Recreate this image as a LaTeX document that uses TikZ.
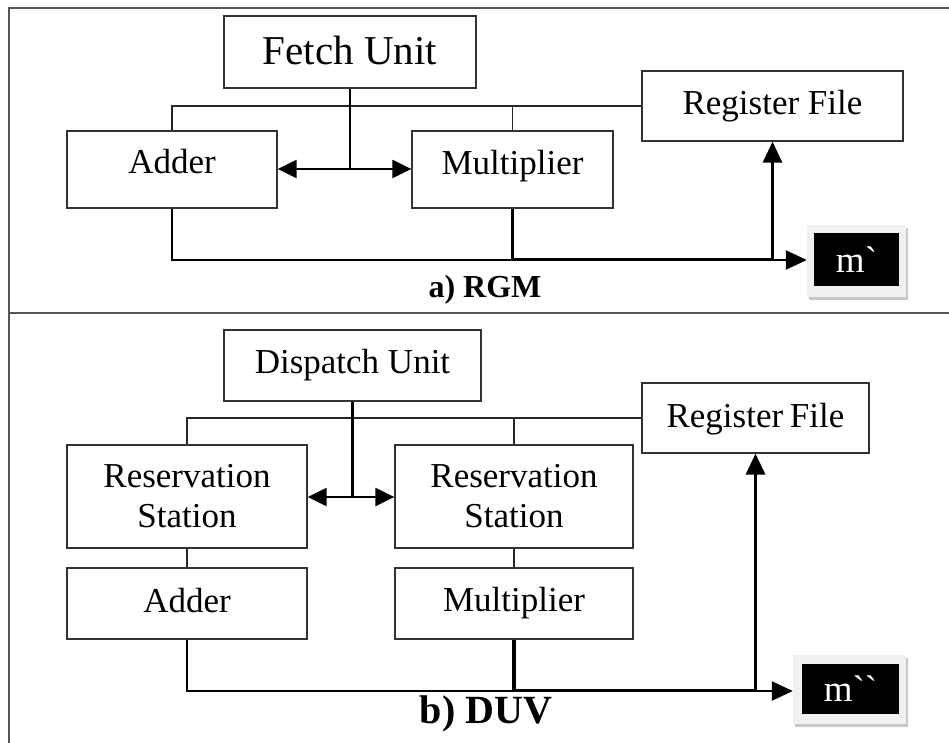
\documentclass[tikz,border=0pt]{standalone}
\usepackage{fontspec}
\setmainfont{Liberation Serif}
% plain family without TeX ligatures, so that two grave accents stay two glyphs
\newfontfamily\plainserif{Liberation Serif}
\usetikzlibrary{arrows.meta}
\definecolor{framegray}{HTML}{555555}
\definecolor{tagface}{HTML}{F0F0F0}
\definecolor{tagshade}{HTML}{C8C8C8}
\begin{document}
\begin{tikzpicture}[x=1pt,y=-1pt,
  unit/.style={draw=black!80, line width=1.3pt, fill=white, inner sep=0pt,
    font=\fontsize{35}{40}\selectfont, align=center},
  capshift/.style={text height=23pt, text depth=#1},
  thinwire/.style={draw=black!85, line width=1.5pt},
  thickwire/.style={draw=black, line width=2.3pt},
  tip/.style={-{Triangle[length=21pt 0 0,width=19pt 0 0]}},
  dtip/.style={{Triangle[length=19pt 0 0,width=18pt 0 0]}-{Triangle[length=19pt 0 0,width=18pt 0 0]}},
  tagshadow/.style={fill=tagshade, draw=none, inner sep=0pt},
  tagface/.style={fill=tagface, draw=none, inner sep=0pt},
  tagbox/.style={fill=black, draw=none, inner sep=0pt, text=white,
    font=\plainserif\fontsize{37}{40}\selectfont},
  caption/.style={font=\bfseries\fontsize{#1}{#1}\selectfont, inner sep=0pt}
]
\useasboundingbox (0,0) rectangle (949,743);

% panel frame
\draw[framegray, line width=2.5pt] (949,8) -- (9,8) -- (9,743);
\draw[framegray, line width=2.5pt] (9,313) -- (949,313);

% ---------- a) RGM ----------
\node[unit, minimum width=252pt, minimum height=72pt, text height=27pt, text depth=2pt,
  font=\fontsize{41}{46}\selectfont] (fetch) at (350,52) {Fetch Unit};
\node[unit, minimum width=261pt, minimum height=70pt, capshift=6pt] (rfa) at (772.5,106) {Register File};
\node[unit, minimum width=210pt, minimum height=77pt, capshift=14pt] (adda) at (172,169.5) {Adder};
\node[unit, minimum width=201pt, minimum height=77pt, capshift=13pt] (mula) at (512.5,169.5) {Multiplier};

\node[tagshadow, minimum width=99pt, minimum height=72pt] (shda) at (858.5,264) {};
\node[tagface, minimum width=99pt, minimum height=72pt] (tagfa) at (856.5,261) {};
\node[tagbox, minimum width=85pt, minimum height=53pt] (ma) at (856.5,259.5) {m`};

\coordinate (busa) at (0,260);
\coordinate (taparrow) at (0,169);

\draw[thinwire] (adda.north) |- (rfa.west);
\draw[thinwire] (mula.north) -- (mula.north |- rfa.west);
\draw[thickwire] (fetch.south) -- (fetch.south |- taparrow);
\draw[thickwire, dtip] (adda.east |- taparrow) -- (mula.west |- taparrow);
\draw[thickwire, tip] (adda.south) -- (adda.south |- busa) -- (tagfa.west |- busa);
\draw[thickwire, line width=3pt, tip] (mula.south) -- ([yshift=0.5pt]mula.south |- busa) -| (rfa.south);

\node[caption=32] (capa) at (485,290) {a) RGM};

% ---------- b) DUV ----------
\node[unit, minimum width=257pt, minimum height=71pt, capshift=8pt] (disp) at (352.5,365.5) {Dispatch Unit};
\node[unit, minimum width=227pt, minimum height=70pt, capshift=4pt] (rfb) at (755.5,418) {Register\hspace{-2pt} File};
\node[unit, minimum width=240pt, minimum height=103pt] (rsa) at (187,496.5) {Reservation\\Station};
\node[unit, minimum width=238pt, minimum height=103pt] (rsb) at (514,496.5) {Reservation\\Station};
\node[unit, minimum width=240pt, minimum height=71pt, capshift=5pt] (addb) at (187,603.5) {Adder};
\node[unit, minimum width=238pt, minimum height=71pt, capshift=7pt] (mulb) at (514,603.5) {Multiplier};

\node[tagshadow, minimum width=113pt, minimum height=69pt] (shdb) at (851.5,692.5) {};
\node[tagface, minimum width=113pt, minimum height=69pt] (tagfb) at (849.5,689.5) {};
\node[tagbox, minimum width=97pt, minimum height=50pt] (mb) at (850.5,689) {m``};

\coordinate (busb) at (0,691);
\coordinate (tapb) at (0,497);

\draw[thinwire] (rsa.north) |- (rfb.west);
\draw[thinwire] (rsb.north) -- (rsb.north |- rfb.west);
\draw[thinwire] (rsa.south) -- (addb.north);
\draw[thinwire] (rsb.south) -- (mulb.north);
\draw[thickwire] (disp.south) -- (disp.south |- tapb);
\draw[thickwire, dtip] (rsa.east |- tapb) -- (rsb.west |- tapb);
\draw[thickwire, tip] (addb.south) -- (addb.south |- busb) -- (tagfb.west |- busb);
\draw[thickwire, line width=3.5pt, tip] (mulb.south) -- ([yshift=0.5pt]mulb.south |- busb) -| (rfb.south);

\node[caption=40] (capb) at (486,714) {b) DUV};
\end{tikzpicture}
\end{document}
